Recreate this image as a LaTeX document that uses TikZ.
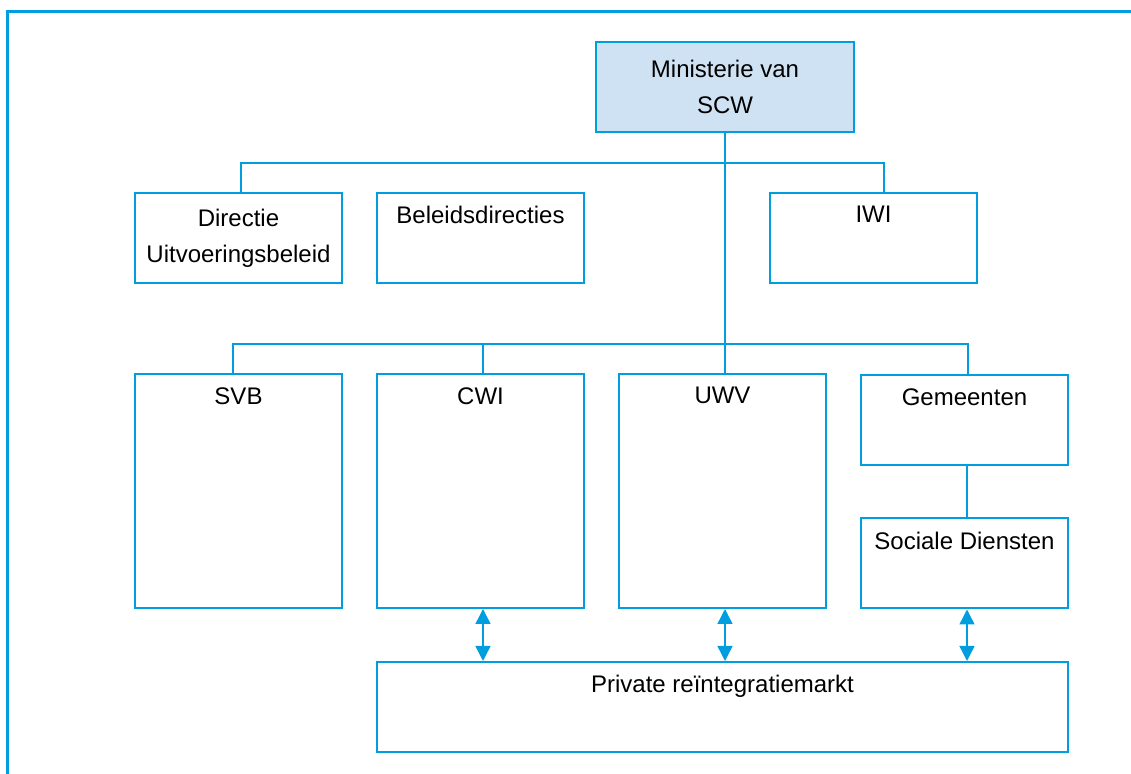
\documentclass[tikz,border=0pt]{standalone}
\usepackage{fontspec}
\setmainfont{Liberation Sans}
\usetikzlibrary{arrows.meta,calc}

\definecolor{szwblue}{RGB}{0,158,222}
\definecolor{szwfill}{RGB}{207,226,243}

\tikzset{
  box/.style={draw=szwblue, line width=1pt, minimum width=103.5pt, minimum height=45pt, inner sep=0pt, align=center},
  ttl/.style={anchor=north, inner sep=0pt, yshift=-7pt},
  conn/.style={draw=szwblue, line width=1pt},
  dblarr/.style={draw=szwblue, line width=0.7pt, {Triangle[width=7.5pt,length=7.5pt]}-{Triangle[width=7.5pt,length=7.5pt]}}
}

\begin{document}
\begin{tikzpicture}[x=0.5pt, y=-0.5pt, font=\fontsize{12}{18}\selectfont]
        \useasboundingbox (0,0) rectangle (1131,774);

        % frame
        \draw[szwblue, line width=1.5pt] (7,776) -- (7,12) -- (1133,12);

        \node[box, fill=szwfill, minimum width=129pt] (min) at (725,87) {Ministerie van\\SCW};

        \node[box] (dir) at (238.5,238) {Directie\\Uitvoeringsbeleid};
        \node[box, label={[ttl]north:Beleidsdirecties}] (bel) at (480.5,238) {};
        \node[box, label={[ttl]north:IWI}] (iwi) at (873.5,238) {};

        \node[box, minimum height=117pt, label={[ttl]north:SVB}] (svb) at (238.5,491) {};
        \node[box, minimum height=117pt, label={[ttl]north:CWI}] (cwi) at (480.5,491) {};
        \node[box, minimum height=117pt, label={[ttl]north:UWV}] (uwv) at (722.5,491) {};
        \node[box, label={[ttl]north:Gemeenten}] (gem) at (964.5,420) {};
        \node[box, label={[ttl]north:Sociale Diensten}] (soc) at (964.5,563.5) {};

        \node[box, minimum width=345.5pt, label={[ttl]north:Private reïntegratiemarkt}] (pri) at (722.5,707) {};

        \coordinate (bus1) at (725,163);
        \coordinate (bus2) at (725,344);

        \draw[conn] (min.south) -- ($(uwv.north)+(2.5,0)$);
        \draw[conn] ($(dir.north)+(2.5,0)$) |- (bus1) -| ($(iwi.north)+(10.5,0)$);
        \draw[conn] ($(svb.north)+(-5.5,0)$) |- (bus2) -| ($(gem.north)+(3,0)$);
        \draw[conn] ($(cwi.north)+(2.5,0)$) -- ($(cwi.north)+(2.5,-30)$);
        \draw[conn] ($(gem.south)+(2.5,0)$) -- ($(soc.north)+(2.5,0)$);

        \draw[dblarr] ($(cwi.south)+(2.5,0)$) -- ($(cwi.south |- pri.north)+(2.5,0)$);
        \draw[dblarr] ($(uwv.south)+(2.5,0)$) -- ($(uwv.south |- pri.north)+(2.5,0)$);
        \draw[dblarr] ($(soc.south)+(2.5,0)$) -- ($(soc.south |- pri.north)+(2.5,0)$);

\end{tikzpicture}
\end{document}
